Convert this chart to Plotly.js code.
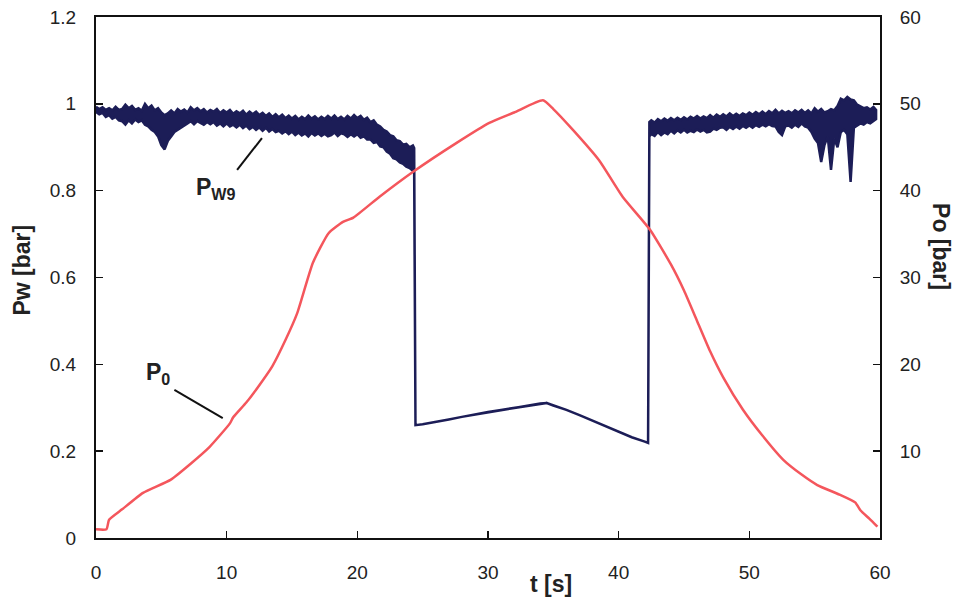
<!DOCTYPE html>
<html>
<head>
<meta charset="utf-8">
<script src="https://cdn.plot.ly/plotly-3.0.1.min.js"></script>
<style>html,body{margin:0;padding:0;background:#fff;}#chart{width:960px;height:598px;}</style>
</head>
<body>
<div id="chart"></div>
<script>
// ---- Pw9 (left axis, bar): noisy band drawn as upper / lower envelope ----
// before the drop
const pw9T1 = [
  0,0.25,0.5,0.75, 1,1.25,1.5,1.75, 2,2.25,2.5,2.75, 3,3.25,3.5,3.75,
  4,4.25,4.5,4.75, 5,5.25,5.5,5.75, 6,6.25,6.5,6.75, 7,7.25,7.5,7.75,
  8,8.25,8.5,8.75, 9,9.25,9.5,9.75, 10,10.25,10.5,10.75, 11,11.25,11.5,11.75,
  12,12.25,12.5,12.75, 13,13.25,13.5,13.75, 14,14.25,14.5,14.75, 15,15.25,15.5,15.75,
  16,16.25,16.5,16.75, 17,17.25,17.5,17.75, 18,18.25,18.5,18.75, 19,19.25,19.5,19.75,
  20,20.25,20.5,20.75, 21,21.25,21.5,21.75, 22,22.25,22.5,22.75, 23,23.25,23.5,23.75,
  24,24.25,24.35];
const pw9Hi1 = [
  0.993,0.988,0.992,0.986, 0.990,0.985,0.993,0.986, 0.988,0.998,0.990,0.995, 0.986,0.990,0.984,1.000,
  0.990,0.996,0.985,0.990, 0.980,0.974,0.978,0.985, 0.978,0.988,0.982,0.987, 0.980,0.992,0.985,0.990,
  0.983,0.988,0.980,0.986, 0.982,0.988,0.979,0.985, 0.980,0.986,0.977,0.983, 0.978,0.984,0.975,0.982,
  0.976,0.982,0.974,0.979, 0.972,0.978,0.970,0.976, 0.969,0.975,0.967,0.973, 0.966,0.972,0.964,0.970,
  0.965,0.973,0.966,0.971, 0.964,0.970,0.965,0.972, 0.966,0.973,0.965,0.970, 0.964,0.972,0.966,0.974,
  0.967,0.972,0.963,0.968, 0.958,0.962,0.952,0.948, 0.940,0.936,0.928,0.925, 0.916,0.914,0.906,0.908,
  0.900,0.904,0.898];
const pw9Lo1 = [
  0.981,0.976,0.979,0.970, 0.974,0.966,0.970,0.962, 0.960,0.952,0.962,0.955, 0.964,0.958,0.962,0.952,
  0.948,0.940,0.935,0.925, 0.905,0.895,0.915,0.925, 0.935,0.940,0.946,0.950, 0.955,0.960,0.953,0.960,
  0.956,0.952,0.958,0.953, 0.958,0.950,0.955,0.948, 0.955,0.948,0.952,0.946, 0.952,0.944,0.950,0.942,
  0.947,0.940,0.946,0.938, 0.945,0.936,0.942,0.935, 0.938,0.932,0.937,0.930, 0.936,0.928,0.934,0.927,
  0.932,0.925,0.933,0.927, 0.932,0.926,0.931,0.925, 0.928,0.934,0.926,0.932, 0.930,0.924,0.930,0.925,
  0.930,0.922,0.925,0.918, 0.918,0.910,0.912,0.902, 0.900,0.890,0.885,0.875, 0.872,0.865,0.862,0.855,
  0.852,0.846,0.843];
// low section between the two jumps (single thin line)
const pw9T2  = [24.45,25,26,27,28,29,30,31,32,33,34,34.5,35,36,37,38,39,40,41,42,42.25];
const pw9Mid = [0.26,0.262,0.267,0.273,0.279,0.285,0.29,0.295,0.3,0.305,0.31,0.311,0.305,0.295,0.283,0.27,0.258,0.245,0.232,0.222,0.219];
// after the jump back
const pw9T3 = [
  42.35,42.5,42.75, 43,43.25,43.5,43.75, 44,44.25,44.5,44.75, 45,45.25,45.5,45.75,
  46,46.25,46.5,46.75, 47,47.25,47.5,47.75, 48,48.25,48.5,48.75, 49,49.25,49.5,49.75,
  50,50.25,50.5,50.75, 51,51.25,51.5,51.75, 52,52.25,52.5,52.75, 53,53.25,53.5,53.75,
  54,54.25,54.5,54.75, 55,55.25,55.5,55.75, 56,56.25,56.5,56.75, 57,57.25,57.5,57.75,
  58,58.25,58.5,58.75, 59,59.25,59.5,59.7];
const pw9Hi3 = [
  0.958,0.962,0.957, 0.965,0.960,0.966,0.961, 0.967,0.962,0.968,0.963, 0.969,0.964,0.970,0.966,
  0.972,0.966,0.971,0.967, 0.974,0.968,0.975,0.970, 0.976,0.971,0.978,0.972, 0.977,0.972,0.978,0.974,
  0.980,0.975,0.981,0.976, 0.982,0.976,0.983,0.978, 0.986,0.978,0.984,0.979, 0.983,0.978,0.985,0.980,
  0.986,0.979,0.985,0.978, 0.990,0.982,0.988,0.980, 0.983,0.988,0.985,0.995, 1.012,1.008,1.016,1.010,
  1.008,0.998,0.994,0.990, 0.992,0.987,0.993,0.986];
const pw9Lo3 = [
  0.925,0.930,0.926, 0.935,0.928,0.934,0.930, 0.938,0.932,0.939,0.934, 0.940,0.934,0.938,0.935,
  0.941,0.936,0.940,0.934, 0.936,0.943,0.940,0.945, 0.946,0.940,0.947,0.942, 0.948,0.943,0.949,0.945,
  0.950,0.945,0.951,0.947, 0.952,0.948,0.953,0.949, 0.948,0.935,0.928,0.948, 0.950,0.945,0.952,0.947,
  0.955,0.948,0.945,0.935, 0.920,0.910,0.866,0.905, 0.925,0.848,0.920,0.900, 0.935,0.940,0.930,0.820,
  0.945,0.950,0.955,0.952, 0.958,0.955,0.960,0.965];

// ---- P0 (right axis, bar) ----
const p0T = [0,0.8,1,2,3.6,5.7,7.2,8.7,10.25,10.5,11.5,12.5,13.5,14.5,15.4,16.6,17.8,18.9,19.7,21.7,24.3,27.6,30.1,32,34.2,35,36.5,38.5,40.3,42.4,44,45,46,47,48,49.5,51,52.6,54,55.2,56.9,58.1,58.5,59.2,59.8];
const p0  = [1.0,1.0,2.1,3.3,5.2,6.7,8.5,10.5,13.2,13.9,15.6,17.6,19.8,22.8,25.9,31.7,35.1,36.4,36.9,39.3,42.2,45.5,47.8,49.0,50.4,49.4,47.0,43.5,39.3,35.5,31.5,28.5,25.0,21.5,18.5,14.8,11.8,9.0,7.3,6.1,5.0,4.1,3.2,2.2,1.3];

const xTicks = [0,10,20,30,40,50,60];
const yTicks = [0,0.2,0.4,0.6,0.8,1,1.2];
const y2Ticks = [10,20,30,40,50,60];

// closed polygon of the Pw9 band: upper edge forward, lower edge backward
const tAll = pw9T1.concat(pw9T2, pw9T3);
const hiAll = pw9Hi1.concat(pw9Mid, pw9Hi3);
const loAll = pw9Lo1.concat(pw9Mid, pw9Lo3);
const bandX = tAll.concat(tAll.slice().reverse());
const bandY = hiAll.concat(loAll.slice().reverse());

const navy = '#1c1d57';
const red = '#f4565c';
const font = 'Arial, "Liberation Sans", sans-serif';

const traces = [
  {x: bandX, y: bandY, type: 'scatter', mode: 'lines', fill: 'toself', fillcolor: navy,
   line: {color: navy, width: 2.5}, name: 'Pw9', yaxis: 'y', hoverinfo: 'skip'},
  {x: p0T, y: p0, type: 'scatter', mode: 'lines', line: {color: red, width: 2.5, shape: 'spline', smoothing: 0.5},
   name: 'P0', yaxis: 'y2'}
];

const axCommon = {showgrid: false, zeroline: false, showline: true, linecolor: '#111', linewidth: 2,
  ticks: 'inside', ticklen: 7, tickwidth: 1.5, tickcolor: '#111',
  tickfont: {family: font, size: 19, color: '#222'}};

const layout = {
  width: 960, height: 598,
  margin: {l: 96, r: 80, t: 17, b: 60},
  paper_bgcolor: '#fff', plot_bgcolor: '#fff',
  showlegend: false,
  font: {family: font, color: '#222'},
  xaxis: Object.assign({}, axCommon, {range: [0, 60], tickvals: xTicks, mirror: true, ticklabelstandoff: 16}),
  yaxis: Object.assign({}, axCommon, {range: [0, 1.2], tickvals: yTicks, ticktext: yTicks.map(String), mirror: true, ticklabelstandoff: 14}),
  yaxis2: Object.assign({}, axCommon, {range: [0, 60], tickvals: y2Ticks, overlaying: 'y', side: 'right', ticklabelstandoff: 14}),
  shapes: [
    {type: 'line', xref: 'x', yref: 'y', x0: 10.8, y0: 0.848, x1: 12.7, y1: 0.921, line: {color: '#111', width: 2}},
    {type: 'line', xref: 'x', yref: 'y', x0: 6.0, y0: 0.341, x1: 9.7, y1: 0.276, line: {color: '#111', width: 2}}
  ],
  annotations: [
    {xref: 'paper', yref: 'paper', x: -0.094, y: 0.514, xanchor: 'center', yanchor: 'middle',
     text: '<b>Pw [bar]</b>', showarrow: false, textangle: -90,
     font: {family: font, size: 23, color: '#222'}},
    {xref: 'paper', yref: 'paper', x: 1.078, y: 0.56, xanchor: 'center', yanchor: 'middle',
     text: '<b>Po [bar]</b>', showarrow: false, textangle: 90,
     font: {family: font, size: 23, color: '#222'}},
    {xref: 'paper', yref: 'paper', x: 0.58, y: -0.088, xanchor: 'center', yanchor: 'middle',
     text: '<b>t [s]</b>', showarrow: false,
     font: {family: font, size: 23, color: '#222'}},
    {xref: 'x', yref: 'y', x: 9.2, y: 0.805, xanchor: 'center', yanchor: 'middle',
     text: '<b>P<sub>W9</sub></b>', showarrow: false,
     font: {family: font, size: 23, color: '#222'}},
    {xref: 'x', yref: 'y', x: 4.75, y: 0.38, xanchor: 'center', yanchor: 'middle',
     text: '<b>P<sub>0</sub></b>', showarrow: false,
     font: {family: font, size: 23, color: '#222'}}
  ]
};

Plotly.newPlot('chart', traces, layout, {staticPlot: true, displayModeBar: false});
</script>
</body>
</html>
